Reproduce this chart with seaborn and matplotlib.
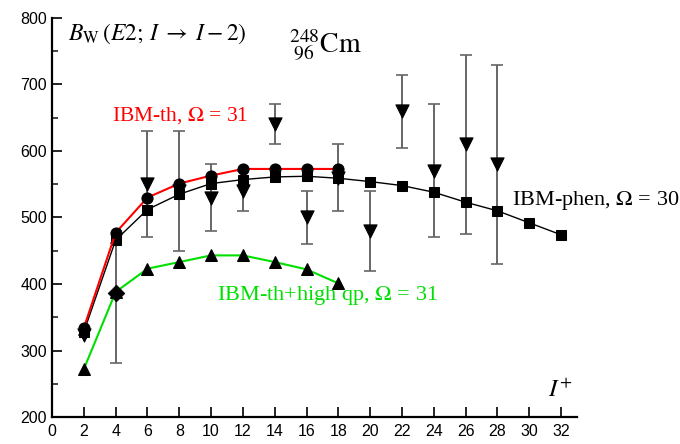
import matplotlib
matplotlib.use("Agg")
import matplotlib.pyplot as plt
import seaborn as sns
import numpy as np
import pandas as pd

# ---- data ----
I_phen = [2, 4, 6, 8, 10, 12, 14, 16, 18, 20, 22, 24, 26, 28, 30, 32]
B_phen = [328, 466, 512, 535, 551, 557, 561, 562, 559, 554, 548, 538, 523, 510, 492, 474]

I_th = [2, 4, 6, 8, 10, 12, 14, 16, 18]
B_th = [334, 477, 530, 551, 563, 573, 573, 573, 573]

I_hqp = [2, 4, 6, 8, 10, 12, 14, 16, 18]
B_hqp = [272, 388, 423, 433, 443, 443, 433, 422, 401]

I_exp = [2, 6, 8, 10, 12, 14, 16, 18, 20, 22, 24, 26, 28]
B_exp = [324, 550, 540, 530, 540, 640, 500, 560, 480, 660, 570, 610, 580]
E_exp = [0, 80, 90, 50, 30, 30, 40, 50, 60, 55, 100, 135, 150]

I_exp2 = [4]
B_exp2 = [386]
E_exp2_lo = [105]
E_exp2_hi = [75]

x_ticks = list(range(0, 33, 2))
y_ticks = [200, 300, 400, 500, 600, 700, 800]

sns.set_style("ticks")
plt.rcParams['font.family'] = ['Liberation Sans', 'DejaVu Sans']
plt.rcParams['mathtext.fontset'] = 'stix'

fig = plt.figure(figsize=(6.8, 4.44), dpi=100)
ax = fig.add_axes([0.0765, 0.0608, 0.772, 0.8987])

# error bars (experiment)
ax.errorbar(I_exp, B_exp, yerr=E_exp, fmt='none', ecolor='#666666',
            elinewidth=1.4, capsize=4, capthick=1.2, zorder=1)
ax.errorbar(I_exp2, B_exp2, yerr=[E_exp2_lo, E_exp2_hi], fmt='none', ecolor='#666666',
            elinewidth=1.4, capsize=4, capthick=1.2, zorder=1)

# IBM-phen
sns.lineplot(x=I_phen, y=B_phen, ax=ax, color='black', linewidth=1.0,
             marker='s', markersize=7.5, markeredgecolor='black',
             markerfacecolor='black', zorder=2)
# IBM-th
sns.lineplot(x=I_th, y=B_th, ax=ax, color='red', linewidth=1.5,
             marker='o', markersize=8, markeredgecolor='black',
             markerfacecolor='black', zorder=3)
# IBM-th + high qp
sns.lineplot(x=I_hqp, y=B_hqp, ax=ax, color='#00e000', linewidth=1.5,
             marker='^', markersize=8.5, markeredgecolor='black',
             markerfacecolor='black', zorder=3)

# experimental markers
sns.scatterplot(x=I_exp, y=B_exp, ax=ax, marker='v', s=90, color='black',
                edgecolor='black', zorder=4)
sns.scatterplot(x=I_exp2, y=B_exp2, ax=ax, marker='D', s=70, color='black',
                edgecolor='black', zorder=4)

ax.set_xlim(0, 33)
ax.set_ylim(200, 800)
ax.set_xticks(x_ticks)
ax.set_yticks(y_ticks)
ax.set_yticks(np.arange(250, 800, 100), minor=True)
ax.tick_params(axis='both', which='major', direction='in', length=7, width=1.2,
               labelsize=11.5, colors='black')
ax.tick_params(axis='y', which='minor', direction='in', length=4, width=1.2)
ax.tick_params(axis='x', pad=5)
for s in ['left', 'bottom']:
    ax.spines[s].set_linewidth(1.6)
    ax.spines[s].set_color('black')
for s in ['right', 'top']:
    ax.spines[s].set_visible(False)
ax.set_xlabel('')
ax.set_ylabel('')

serif = ['Liberation Serif', 'DejaVu Serif']
ax.text(1.0, 776, r'$B_{\rm W}\,(E2;\,I\;\rightarrow\;I-2)$', fontsize=17,
        ha='left', va='center', color='black')
ax.text(14.9, 758, r'${}^{248}_{\;96}\mathrm{Cm}$', fontsize=20,
        ha='left', va='center', color='black')
ax.text(3.8, 653, r'IBM-th, $\Omega$ = 31', fontsize=15.5, family=serif,
        ha='left', va='center', color='red')
ax.text(28.9, 526, r'IBM-phen, $\Omega$ = 30', fontsize=16, family=serif,
        ha='left', va='center', color='black')
ax.text(10.4, 382, r'IBM-th+high qp, $\Omega$ = 31', fontsize=16, family=serif,
        ha='left', va='center', color='#00e000')
ax.text(31.2, 240, r'$I^{+}$', fontsize=18, ha='left', va='center', color='black')

fig.savefig('out.png', dpi=100)
